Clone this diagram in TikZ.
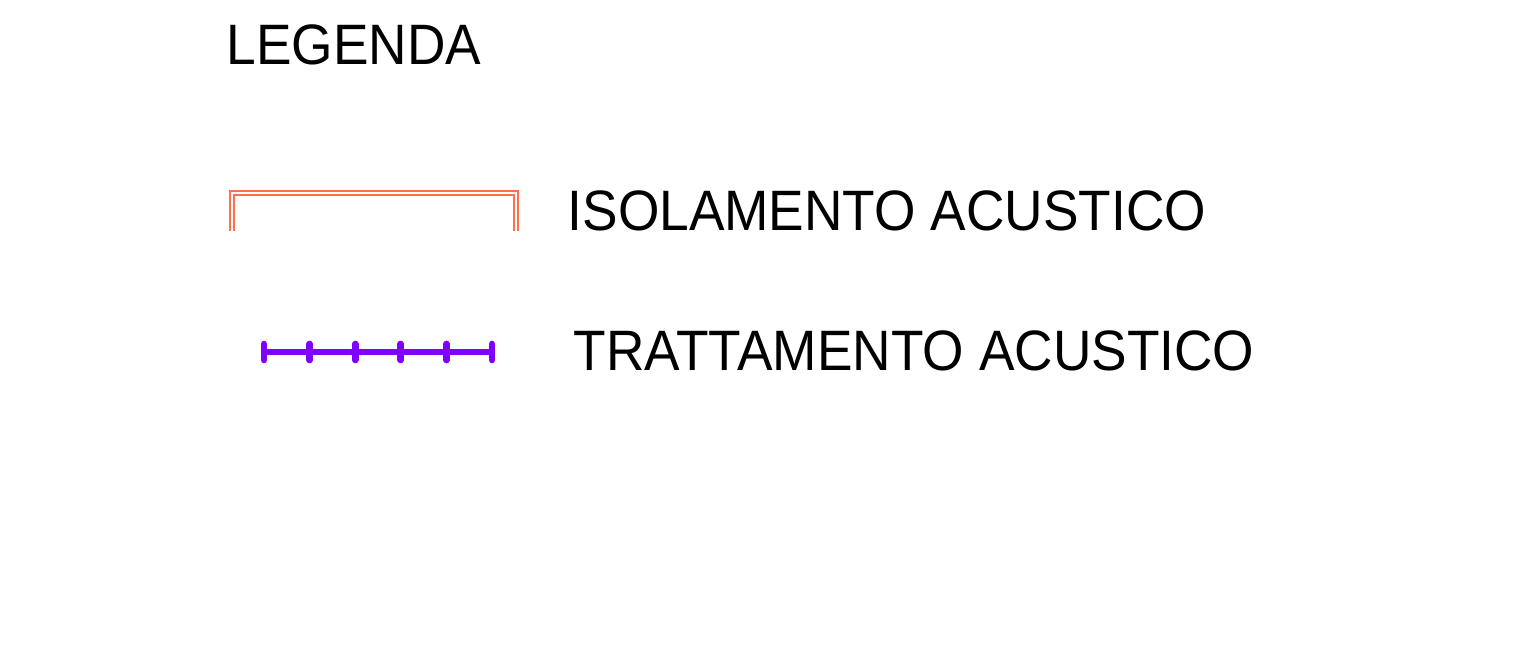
\documentclass[tikz,border=0pt]{standalone}
\usepackage{fontspec}
\setmainfont{Liberation Sans}
\newfontfamily\legfont[FakeStretch=0.935]{Liberation Sans}
\usepackage{tikz}
\usetikzlibrary{positioning}
\definecolor{isolcol}{RGB}{255,112,72}
\definecolor{trattcol}{RGB}{127,0,255}
\tikzset{%
  legtext/.style={%
    anchor=base west,
    inner sep=0pt,
    font=\legfont\fontsize{16.2}{18}\selectfont
  },
  isolline/.style={%
    draw=isolcol,
    line width=0.45pt
  },
  trattline/.style={%
    draw=trattcol,
    line width=1.6pt,
    line cap=round
  }
}

\begin{document}
\begin{tikzpicture}[x=0.01cm,y=-0.01cm]
    \useasboundingbox (0,0) rectangle (1523,646);

    \node[legtext] (legenda) at (226,65) {LEGENDA};

    % isolamento acustico
    \draw[isolline] (230,231) -- (230,191) -- (518,191) -- (518,231);
    \draw[isolline] (234,231) -- (234,195) -- (514,195) -- (514,231);
    \node[legtext] (isol) at (567,231) {ISOLAMENTO ACUSTICO};

    % trattamento acustico
    \draw[trattline] (264,352) -- (492,352);
    \foreach \x in {264,309.6,355.2,400.8,446.4,492}
      \draw[trattline,line width=1.9pt] (\x,344) -- (\x,360);
    \node[legtext] (tratt) at (573,371) {TRATTAMENTO ACUSTICO};
\end{tikzpicture}
\end{document}
